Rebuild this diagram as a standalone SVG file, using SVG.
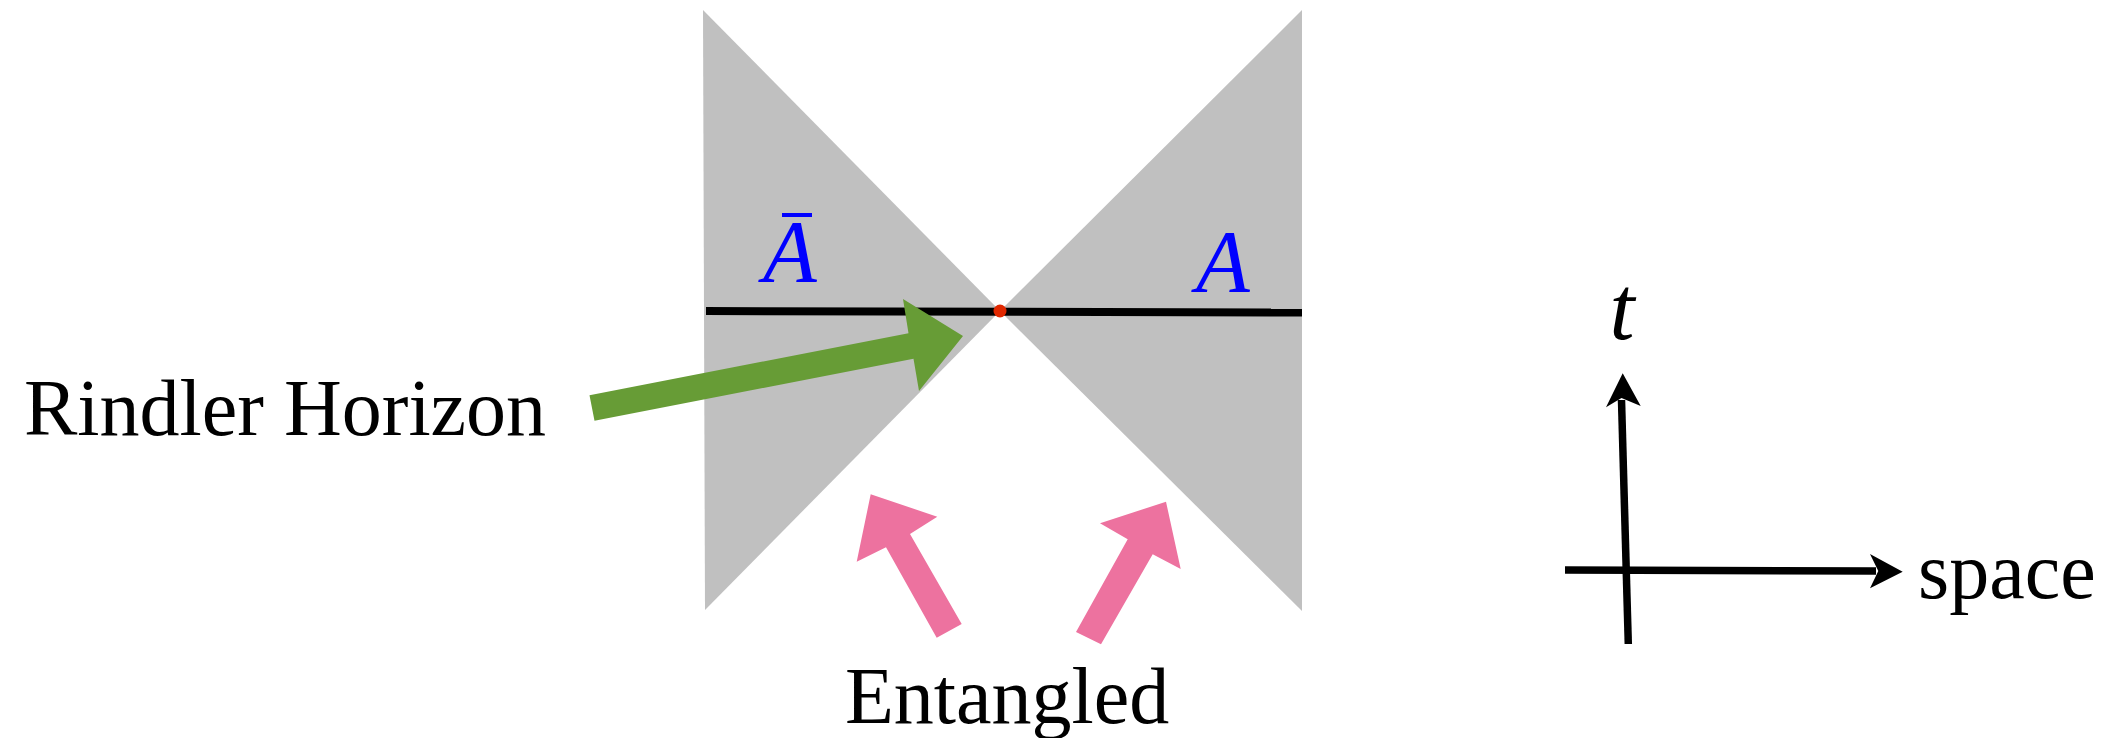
<svg xmlns="http://www.w3.org/2000/svg" width="2116" height="738" viewBox="0 0 2116 738">
  <style>
    .wedge { fill: #c0c0c0; }
    .label { font-family: "Liberation Serif", "Times New Roman", serif; font-size: 80px; fill: #000; }
    .math { font-family: "Liberation Serif", "Times New Roman", serif; font-style: italic; }
    .blue { fill: #0000ff; }
    .axis { stroke: #000; stroke-width: 7.5; fill: none; }
    .head { fill: #000; }
    .pink { fill: #ed729f; }
    .green { fill: #679c36; }
  </style>
  <rect width="2116" height="738" fill="#ffffff"/>

  <g id="region-Abar">
    <polygon class="wedge" points="703,10 1000,311 705,610"/>
    <rect class="blue" x="782" y="213" width="30" height="4"/>
    <text class="math blue" x="790" y="281" font-size="88" text-anchor="middle">A</text>
  </g>

  <g id="region-A">
    <polygon class="wedge" points="1302,10 1000,311 1302,611"/>
    <text class="math blue" x="1223" y="291" font-size="88" text-anchor="middle">A</text>
  </g>

  <g id="time-slice">
    <line x1="706" y1="311" x2="1302" y2="312.5" stroke="#000" stroke-width="8"/>
  </g>

  <g id="horizon-point">
    <circle cx="1000" cy="311" r="6.5" fill="#e02800"/>
  </g>

  <g id="label-rindler">
    <text class="label" x="24" y="435">Rindler Horizon</text>
  </g>

  <g id="label-entangled">
    <text class="label" x="845" y="723">Entangled</text>
  </g>

  <g id="axes">
    <text class="math" x="1622" y="339" font-size="90" text-anchor="middle">t</text>
    <text class="label" x="1918" y="598">space</text>
  </g>

  <g id="connectors">
    <polygon class="green" points="589.5,395.2 908.5,333.2 903,299 963,336 919,391 913.5,358.8 594.5,420.8"/>
    <polygon class="pink" points="961.7,624 910,534 937.3,516.7 870.7,494.3 856.7,561.7 886,547.3 936.7,637.7"/>
    <polygon class="pink" points="1076,632 1127.7,539.3 1100,523.3 1166,501.7 1180.7,569 1152.7,554.3 1101,644.3"/>
    <line class="axis" x1="1628.3" y1="644" x2="1621.5" y2="400"/>
    <polygon class="head" points="1622.7,373.3 1640.7,406 1621.5,398 1606,407.3"/>
    <line class="axis" x1="1565" y1="570" x2="1876" y2="571"/>
    <polygon class="head" points="1902.7,571.7 1870,588.3 1878.3,571 1870,554"/>
  </g>
</svg>
